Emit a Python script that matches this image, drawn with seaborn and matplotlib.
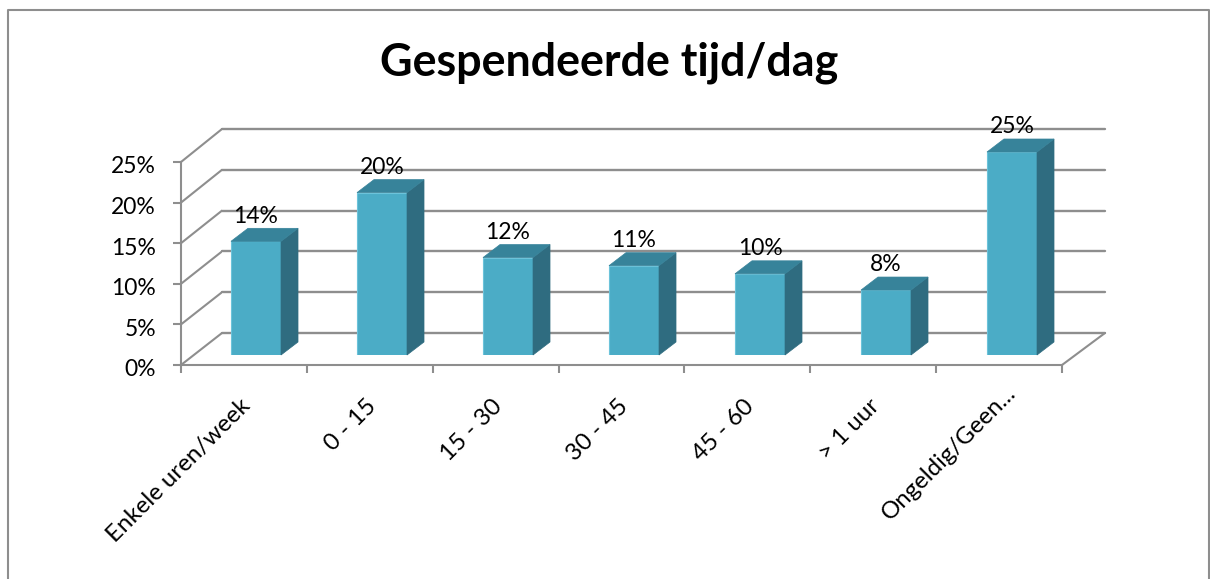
import matplotlib
matplotlib.use('Agg')
import matplotlib.pyplot as plt
import seaborn as sns
from matplotlib.lines import Line2D
from matplotlib.patches import ConnectionPatch, Polygon
from matplotlib.transforms import ScaledTranslation

categories = ['Enkele uren/week', '0 - 15', '15 - 30', '30 - 45', '45 - 60', '> 1 uur', 'Ongeldig/Geen...']
values = [14, 20, 12, 11, 10, 8, 25]
y_ticks = [0, 5, 10, 15, 20, 25]
y_labels = ['0%', '5%', '10%', '15%', '20%', '25%']
title = 'Gespendeerde tijd/dag'

W, H = 1210, 579
GREY = '#8e8e8e'
FRONT = '#4bacc6'
TOP = '#37839a'
SIDE = '#2f6c80'

sns.set_theme(style='white')
plt.rcParams['font.family'] = ['Lato', 'DejaVu Sans']


def box(left, right, top, bottom):
    # pixel box (y from the top of the image) to figure fractions
    return [left / W, 1 - bottom / H, (right - left) / W, (bottom - top) / H]


figure = plt.figure(figsize=(W / 100, H / 100), dpi=100, facecolor='white')

# back wall with the gridlines
wall = figure.add_axes(box(222, 1105, 129, 333), zorder=1)
wall.set_xlim(0, 1)
wall.set_ylim(0, 25)
wall.set_yticks(y_ticks)
wall.set_xticks([])
wall.tick_params(left=False, labelleft=False)
wall.yaxis.grid(True, color=GREY, linewidth=1.7, clip_on=False)
wall.set_axisbelow(True)
sns.despine(ax=wall, left=True, bottom=True)

# front plane carries the axis and its labels
front = figure.add_axes(box(181, 1062, 162, 365), zorder=2)
front.patch.set_alpha(0)
front.set_xlim(0, len(categories))
front.set_ylim(0, 25)
front.set_yticks(y_ticks)
front.set_yticklabels(y_labels, fontsize=16.5, color='black')
front.set_xticks(range(len(categories) + 1))
front.set_xticklabels([])
front.set_xticks([i + 0.5 for i in range(len(categories))], minor=True)
front.set_xticklabels(categories, minor=True, rotation=45, ha='right',
                      rotation_mode='anchor', fontsize=17.3, color='black')
front.tick_params(axis='both', which='major', length=6, width=1.5, color=GREY, left=True, bottom=True)
front.tick_params(axis='x', which='minor', length=0, pad=22, bottom=True)
front.tick_params(axis='y', pad=12)
sns.despine(ax=front)
front.spines['left'].set_color(GREY)
front.spines['left'].set_linewidth(1.5)
front.spines['bottom'].set_color(GREY)
front.spines['bottom'].set_linewidth(1.5)

# nudge the tick labels a few pixels
for label in front.get_yticklabels():
    label.set_transform(label.get_transform() + ScaledTranslation(0, -3 / 100, figure.dpi_scale_trans))
x_labels = front.get_xticklabels(minor=True)
for label in x_labels[:-1]:
    label.set_transform(label.get_transform() + ScaledTranslation(-4 / 100, 0, figure.dpi_scale_trans))
# the last label sits further along its own direction
x_labels[-1].set_transform(x_labels[-1].get_transform() + ScaledTranslation(6 / 100, 14 / 100, figure.dpi_scale_trans))

# diagonals between the front plane and the wall
for v in y_ticks:
    figure.add_artist(ConnectionPatch((0, v), (0, v), 'data', 'data', axesA=front, axesB=wall,
                                      color=GREY, linewidth=1.5, zorder=0))
figure.add_artist(ConnectionPatch((1, 0), (1, 0), 'axes fraction', 'axes fraction', axesA=front, axesB=wall,
                                  color=GREY, linewidth=1.5, zorder=0))

# bars
axis = figure.add_axes(box(193, 1075, 152, 355), zorder=3)
axis.patch.set_alpha(0)
sns.barplot(x=categories, y=values, color=FRONT, saturation=1, width=0.397,
            edgecolor='#6cc3da', linewidth=0.8, ax=axis)
axis.set_xlim(-0.5, len(categories) - 0.5)
axis.set_ylim(0, 25)
axis.axis('off')

# side and top faces, offset in data units
depth_x = 17 / 126
depth_y = 13 * 25 / 203
for bar in axis.patches:
    x0, x1 = bar.get_x(), bar.get_x() + bar.get_width()
    v = bar.get_height()
    axis.add_patch(Polygon([(x1, 0), (x1 + depth_x, depth_y), (x1 + depth_x, v + depth_y), (x1, v)],
                           facecolor=SIDE, edgecolor=SIDE, linewidth=0.5, clip_on=False))
    axis.add_patch(Polygon([(x0, v), (x0 + depth_x, v + depth_y), (x1 + depth_x, v + depth_y), (x1, v)],
                           facecolor=TOP, edgecolor=TOP, linewidth=0.5, clip_on=False))

axis.bar_label(axis.containers[0], labels=[f'{v}%' for v in values], fontsize=16.5, padding=10.5,
               color='black', clip_on=False)

# outer frame, open at the bottom
frame = [(8, 579), (8, 10), (1209, 10), (1209, 579)]
figure.add_artist(Line2D([p[0] / W for p in frame], [1 - p[1] / H for p in frame],
                         color=GREY, linewidth=1.5, zorder=0))

figure.text(609 / W, 1 - 63 / H, title, ha='center', va='center', fontsize=32.3, fontweight='bold', color='black')

figure.savefig('out.png', dpi=100)
